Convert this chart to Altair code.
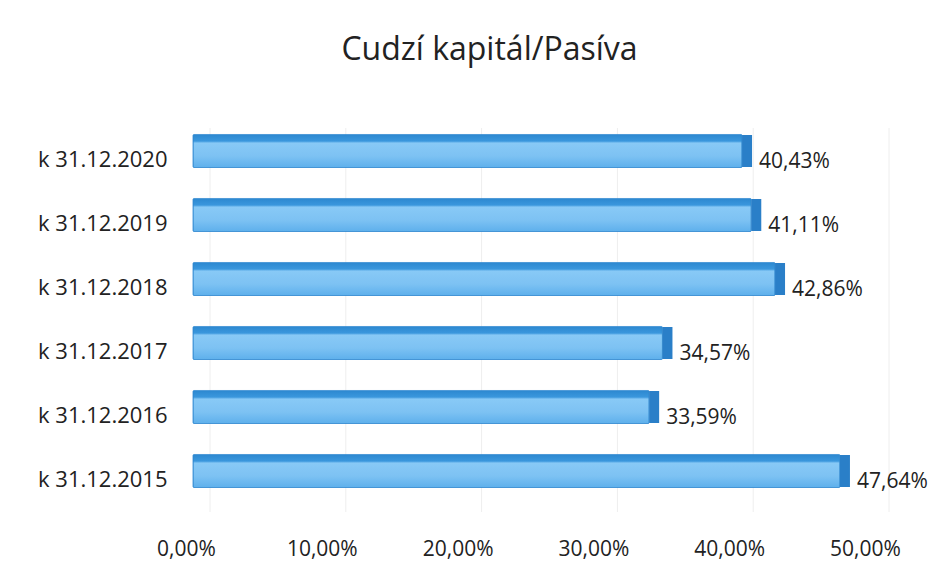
import altair as alt
import pandas as pd

categories = ["k 31.12.2020", "k 31.12.2019", "k 31.12.2018", "k 31.12.2017", "k 31.12.2016", "k 31.12.2015"]
values = [40.43, 41.11, 42.86, 34.57, 33.59, 47.64]
labels = ["40,43%", "41,11%", "42,86%", "34,57%", "33,59%", "47,64%"]
tick_values = [0, 10, 20, 30, 40, 50]

df = pd.DataFrame({"cat": categories, "val": values, "lab": labels})
grid_df = pd.DataFrame({"t": tick_values})

FONT = "Open Sans"
BAR_SHIFT = -9

y_enc = alt.Y("cat:N", sort=categories, title=None,
              scale=alt.Scale(paddingInner=0.484, paddingOuter=0.242),
              axis=alt.Axis(domain=False, ticks=False, labelFontSize=22, labelColor="#222222",
                            labelFont=FONT, labelPadding=26, grid=False))
x_enc = alt.X("val:Q", title=None,
              scale=alt.Scale(domain=[0, 50], nice=False),
              axis=alt.Axis(values=tick_values, domain=False, ticks=False, labelFontSize=21,
                            labelColor="#222222", labelFont=FONT, labelPadding=26,
                            labelOffset=-7, labelFlush=False, grid=False,
                            labelExpr="replace(format(datum.value, '.2f'), '.', ',') + '%'"))

grad = alt.Gradient(
    gradient="linear", x1=0, y1=0, x2=0, y2=1,
    stops=[
        alt.GradientStop(color="#2c88d0", offset=0),
        alt.GradientStop(color="#3a97dd", offset=0.2),
        alt.GradientStop(color="#88c9f6", offset=0.26),
        alt.GradientStop(color="#7dc2f3", offset=0.65),
        alt.GradientStop(color="#5eb0ec", offset=1),
    ],
)

gridlines = alt.Chart(grid_df).mark_rule(color="#eeeeee", strokeWidth=1, xOffset=17).encode(
    x=alt.X("t:Q", scale=alt.Scale(domain=[0, 50], nice=False))
)

bars = alt.Chart(df).mark_bar(fill=grad, stroke="#3189d0", strokeWidth=0.8, cornerRadius=1,
                              yOffset=BAR_SHIFT).encode(
    x=x_enc, y=y_enc
)

side = alt.Chart(df).mark_tick(orient="vertical", thickness=10, size=32, xOffset=5,
                               yOffset=BAR_SHIFT, color="#2a7fc8", opacity=1).encode(
    x=alt.X("val:Q"), y=alt.Y("cat:N", sort=categories)
)

text = alt.Chart(df).mark_text(align="left", baseline="middle", dx=17, dy=2, fontSize=21,
                               font=FONT, color="#222222").encode(
    x=alt.X("val:Q"), y=alt.Y("cat:N", sort=categories), text="lab:N"
)

chart = alt.layer(gridlines, bars, side, text).properties(
    width=679, height=384,
    autosize=alt.AutoSizeParams(type="none"),
    padding={"left": 185, "top": 120, "right": 66, "bottom": 53},
    title=alt.TitleParams("Cudzí kapitál/Pasíva", fontSize=32, font=FONT, fontWeight="normal",
                          color="#222222", anchor="middle", offset=61, dx=-43),
).configure(background="white", view=alt.ViewConfig(strokeWidth=0, stroke="transparent"))

chart.save("out.html", embed_options={"renderer": "svg", "actions": False})
